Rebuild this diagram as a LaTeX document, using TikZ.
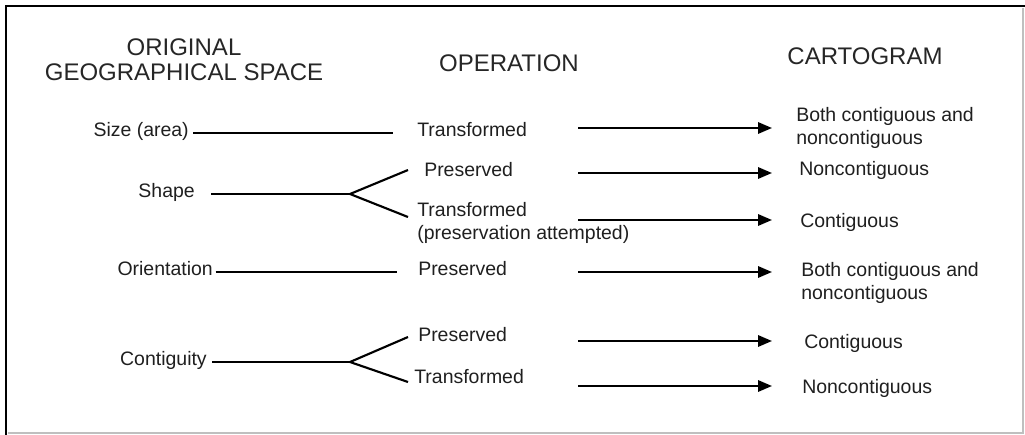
\documentclass[tikz,border=0pt]{standalone}
\usepackage{fontspec}
\setmainfont{Liberation Sans}
\usetikzlibrary{arrows.meta}

\tikzset{
  head/.style={font=\fontsize{18}{19}\selectfont, align=center, inner sep=0pt, text=black!85},
  lbl/.style={font=\fontsize{14.6}{17}\selectfont, inner sep=0pt, text height=7.5pt, text depth=2.5pt, text=black!88},
  res/.style={font=\fontsize{14.6}{17}\selectfont, inner sep=0pt, anchor=west, align=left, text=black!88},
  link/.style={line width=1.6pt},
  arr/.style={line width=1.6pt, -{Triangle[length=10.5pt,width=8.5pt]}},
}

\begin{document}
\begin{tikzpicture}[x=0.75pt, y=-0.75pt]
  \useasboundingbox (0,0) rectangle (1025,435);

  % frame
  \draw[line width=2.2pt] (6,435) -- (6,6) -- (1025,6);
  \draw[gray!50, line width=1pt] (1023,8) -- (1023,433) -- (8,433);

  % column heads
  \node[head] (orig) at (184,60) {ORIGINAL\\GEOGRAPHICAL SPACE};
  \node[head] (oper) at (509,63) {OPERATION};
  \node[head] (carto) at (865,56) {CARTOGRAM};

  % left column
  \node[lbl, anchor=east] (size) at (189,133) {Size (area)};
  \node[lbl, anchor=east] (shape) at (195,194) {Shape};
  \node[lbl, anchor=east] (orient) at (213,272) {Orientation};
  \node[lbl, anchor=east] (contig) at (207,362) {Contiguity};

  % operations
  \node[lbl, anchor=west] (t1) at (417,133) {Transformed};
  \node[lbl, anchor=west] (p2) at (424,173) {Preserved};
  \node[res] (t3) at (417,223) {Transformed\\(preservation attempted)};
  \node[lbl, anchor=west] (p4) at (418,272) {Preserved};
  \node[lbl, anchor=west] (p5) at (418,338) {Preserved};
  \node[lbl, anchor=west] (t5) at (414,380) {Transformed};

  % results
  \node[res] (r1) at (796,128) {Both contiguous and\\noncontiguous};
  \node[res] (r2) at (799,170) {Noncontiguous};
  \node[res] (r3) at (800,222) {Contiguous};
  \node[res] (r4) at (801,283) {Both contiguous and\\noncontiguous};
  \node[res] (r5) at (804,343) {Contiguous};
  \node[res] (r6) at (802,388) {Noncontiguous};

  % straight links
  \draw[link, shorten <=3pt, shorten >=18pt] (size) -- (t1);
  \draw[link, shorten <=2pt, shorten >=16pt] (orient) -- (p4);

  % forks
  \coordinate (k2) at (350,194);
  \coordinate (k5) at (350,362);
  \draw[link, shorten <=12pt] (shape) -- (k2);
  \draw[link] (k2) -- +(58,-24) (k2) -- +(58,23);
  \draw[link, shorten <=4pt] (contig) -- (k5);
  \draw[link] (k5) -- +(58,-25) (k5) -- +(58,20);

  % arrows to the cartogram column
  \foreach \y [count=\i] in {128,173,220,272,341,386} {
    \coordinate (a\i) at (578,\y);
    \draw[arr] (a\i) -- ++(194,0);
  }
\end{tikzpicture}
\end{document}
